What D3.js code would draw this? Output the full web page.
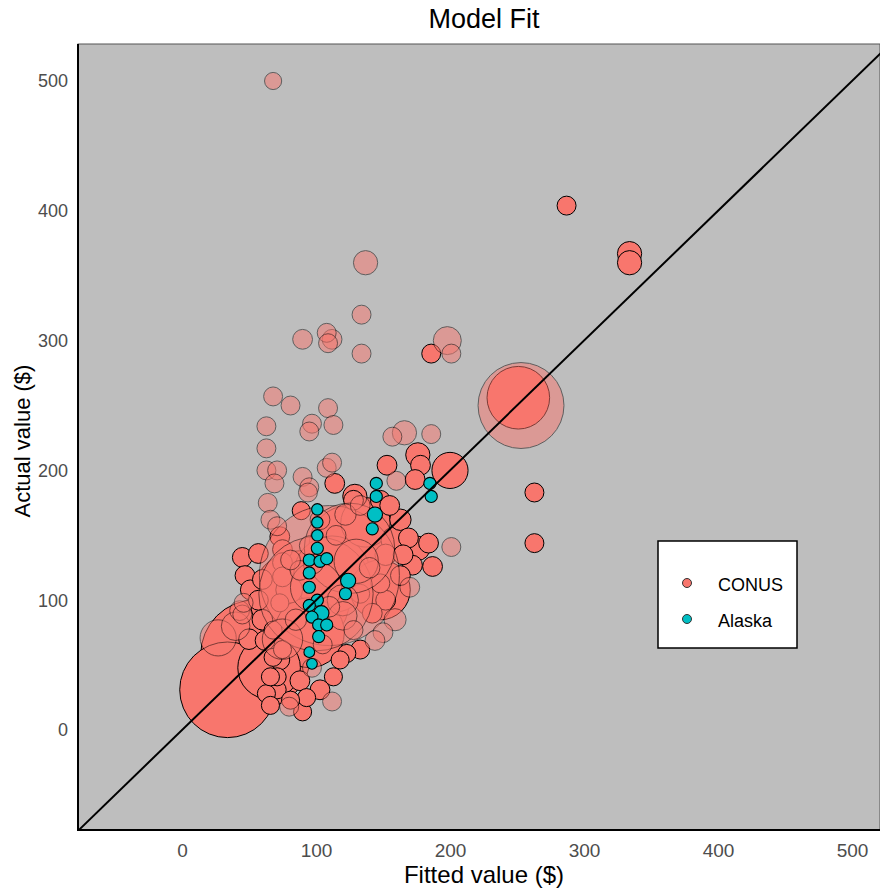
<!DOCTYPE html>
<html>
<head>
<meta charset="utf-8">
<script src="https://cdn.jsdelivr.net/npm/d3@7"></script>
<style>
  body { margin: 0; background: #fff; }
  text { font-family: "Liberation Sans", Arial, sans-serif; }
</style>
</head>
<body>
<div id="chart"></div>
<script>
// [fitted, actual, weight]
const conusSolid = [
  [88, 100, 30], [55, 58, 37], [34, 31, 28], [125, 142, 20], [95, 75, 15],
  [251, 256, 12], [148, 108, 11], [65, 48, 12], [137, 160, 7.5], [112, 120, 18],
  [200, 200, 4], [159, 146, 2.4], [80, 108, 2.2],
  [287, 404, 1.1], [334, 367, 1.8], [334, 360, 1.8], [263, 183, 1.1], [263, 144, 1.1],
  [186, 290, 1.1], [176, 212, 1.8], [178, 204, 1.2], [174, 193, 1.2], [153, 204, 1.2],
  [114, 190, 1.2], [89, 169, 1.0], [129, 180, 1.8], [176, 140, 1.8], [184, 144, 1.2],
  [187, 126, 1.2], [172, 127, 1.2], [45, 133, 1.2], [57, 136, 1.2], [73, 149, 1.2],
  [75, 139, 1.2], [75, 129, 1.2], [75, 118, 1.2], [128, 177, 1.2],
  [148, 177, 1.2], [155, 173, 1.2], [163, 162, 1.4],
  [169, 148, 1.2], [152, 135, 1.4], [163, 119, 1.2], [152, 100, 1.2], [133, 62, 1.1],
  [123, 59, 1.0], [118, 54, 1.0], [113, 41, 1.0], [90, 14, 1.0], [93, 25, 1.0],
  [71, 31, 1.0], [63, 28, 1.0], [71, 41, 1.0], [66, 41, 1.0], [73, 98, 1.0],
  [68, 77, 1.0], [68, 56, 1.0], [75, 62, 1.0], [148, 113, 1.1], [133, 105, 1.1],
  [47, 119, 1.2], [51, 108, 1.2], [57, 100, 1.2], [60, 116, 1.2],
  [62, 69, 1.2], [73, 54, 1.2], [88, 38, 1.2], [103, 31, 1.2], [81, 23, 1.0],
  [66, 19, 1.0], [165, 135, 1.2], [142, 90, 1.2], [60, 85, 1.3], [50, 70, 1.3]
];

const conusFaded = [
  [110, 119, 60], [100, 105, 40], [125, 140, 25], [100, 110, 8], [130, 130, 6],
  [75, 70, 5], [120, 100, 3], [253, 250, 22.6], [27, 71, 4], [40, 80, 2.5],
  [68, 500, 0.9], [137, 360, 1.8], [134, 320, 1.1], [90, 301, 1.2], [108, 306, 1.1],
  [112, 301, 1.2], [109, 298, 1.1], [134, 290, 1.1], [198, 300, 2.4], [201, 290, 1.1],
  [68, 257, 1.1], [81, 250, 1.1], [63, 234, 1.1], [109, 248, 1.1],
  [97, 236, 1.1], [95, 230, 1.1], [113, 235, 1.1], [157, 226, 1.1], [166, 229, 1.8],
  [186, 228, 1.1], [63, 217, 1.1], [63, 200, 1.1], [71, 200, 1.1], [69, 190, 1.1],
  [90, 195, 1.1], [95, 187, 1.1], [94, 183, 1.1], [108, 202, 1.1], [112, 206, 1.1],
  [64, 175, 1.1], [66, 162, 1.1], [71, 157, 1.1], [160, 192, 1.1], [201, 141, 1.1],
  [112, 22, 1.1], [80, 18, 1.1], [45, 89, 1.1], [46, 98, 1.1],
  [159, 85, 1.5], [150, 75, 1.2], [170, 110, 1.2], [144, 69, 1.2], [43, 92, 1.2],
  [103, 162, 1.2], [122, 166, 1.4], [133, 173, 1.2], [115, 150, 1.2], [98, 128, 1.2],
  [110, 95, 1.3], [85, 85, 1.4], [120, 88, 2.5], [140, 125, 1.3], [88, 123, 1.2],
  [95, 142, 1.2], [81, 131, 1.2], [128, 77, 1.1], [105, 66, 1.1], [97, 48, 1.1]
];

const alaska = [
  [101, 170, 0.4], [101, 160, 0.4], [101, 150, 0.4], [101, 140, 0.45], [95, 131, 0.45],
  [103, 130, 0.45], [108, 132, 0.45], [95, 121, 0.45], [95, 110, 0.45], [124, 115, 0.7],
  [122, 105, 0.45], [101, 100, 0.45], [95, 96, 0.45], [104, 90, 0.7], [97, 87, 0.45],
  [102, 81, 0.45], [108, 81, 0.45], [102, 72, 0.45], [95, 60, 0.35], [97, 51, 0.35],
  [145, 190, 0.45], [145, 180, 0.45], [144, 166, 0.7], [142, 155, 0.45],
  [185, 190, 0.45], [186, 180, 0.45]
];

const xTicks = [0, 100, 200, 300, 400, 500];
const yTicks = [0, 100, 200, 300, 400, 500];
const legendLabels = ["CONUS", "Alaska"];
const colors = { CONUS: "#F8766D", Alaska: "#00BFC4" };

const W = 880, H = 890;
const margin = { top: 44, right: 0, bottom: 60, left: 78 };
const width = W - margin.left - margin.right;
const height = H - margin.top - margin.bottom;

const svg = d3.select("#chart").append("svg")
  .attr("width", W).attr("height", H);

const x = d3.scaleLinear().domain([-77.6, 520.9]).range([margin.left, margin.left + width]);
const y = d3.scaleLinear().domain([-77, 528.5]).range([margin.top + height, margin.top]);
const r = d3.scaleSqrt().domain([0, 60]).range([0, 70]);

svg.append("defs").append("clipPath").attr("id", "clip")
  .append("rect")
  .attr("x", margin.left).attr("y", margin.top)
  .attr("width", width).attr("height", height);

// panel
svg.append("rect")
  .attr("x", margin.left).attr("y", margin.top)
  .attr("width", width).attr("height", height)
  .attr("fill", "#bebebe")
  .attr("stroke", "#555").attr("stroke-width", 1);

const plot = svg.append("g").attr("clip-path", "url(#clip)");

const bySize = (a, b) => b[2] - a[2];

plot.selectAll(".solid").data(conusSolid.slice().sort(bySize)).join("circle")
  .attr("class", "solid")
  .attr("cx", d => x(d[0])).attr("cy", d => y(d[1]))
  .attr("r", d => r(d[2]))
  .attr("fill", colors.CONUS)
  .attr("stroke", "#000").attr("stroke-width", 1);

plot.selectAll(".faded").data(conusFaded.slice().sort(bySize)).join("circle")
  .attr("class", "faded")
  .attr("cx", d => x(d[0])).attr("cy", d => y(d[1]))
  .attr("r", d => r(d[2]))
  .attr("fill", colors.CONUS)
  .attr("stroke", "#000").attr("stroke-width", 1)
  .attr("opacity", 0.5);

plot.selectAll(".ak").data(alaska).join("circle")
  .attr("class", "ak")
  .attr("cx", d => x(d[0])).attr("cy", d => y(d[1]))
  .attr("r", d => r(d[2]))
  .attr("fill", colors.Alaska)
  .attr("stroke", "#000").attr("stroke-width", 1.1);

// y = x reference line
plot.append("line")
  .attr("x1", x(-100)).attr("y1", y(-100))
  .attr("x2", x(600)).attr("y2", y(600))
  .attr("stroke", "#000").attr("stroke-width", 2);

// axes
const xAxis = svg.append("g")
  .attr("transform", `translate(0,${margin.top + height})`)
  .call(d3.axisBottom(x).tickValues(xTicks).tickSize(0).tickPadding(14));
xAxis.select(".domain").remove();
xAxis.selectAll("text").attr("fill", "#4d4d4d").style("font-size", "19px")
  .style("font-family", "'Liberation Sans Narrow', 'Liberation Sans', Arial, sans-serif");

const yAxis = svg.append("g")
  .attr("transform", `translate(${margin.left},0)`)
  .call(d3.axisLeft(y).tickValues(yTicks).tickSize(0).tickPadding(10));
yAxis.select(".domain").remove();
yAxis.selectAll("text").attr("fill", "#4d4d4d").style("font-size", "18px")
  .style("font-family", "'Liberation Sans', Arial, sans-serif");

svg.append("line")
  .attr("x1", margin.left).attr("x2", margin.left + width)
  .attr("y1", margin.top + height).attr("y2", margin.top + height)
  .attr("stroke", "#000").attr("stroke-width", 2);
svg.append("line")
  .attr("x1", margin.left).attr("x2", margin.left)
  .attr("y1", margin.top).attr("y2", margin.top + height + 1)
  .attr("stroke", "#000").attr("stroke-width", 2);

// titles
svg.append("text")
  .attr("x", 484).attr("y", 28)
  .attr("text-anchor", "middle")
  .style("font-size", "27px")
  .text("Model Fit");

svg.append("text")
  .attr("x", 484).attr("y", 883)
  .attr("text-anchor", "middle")
  .style("font-size", "24px")
  .style("font-family", "'Liberation Sans Narrow', 'Liberation Sans', Arial, sans-serif")
  .text("Fitted value ($)");

svg.append("text")
  .attr("transform", "translate(30,441) rotate(-90)")
  .attr("text-anchor", "middle")
  .style("font-size", "22px")
  .text("Actual value ($)");

// legend
const legend = svg.append("g");
legend.append("rect")
  .attr("x", 658).attr("y", 541)
  .attr("width", 139).attr("height", 107)
  .attr("fill", "#fff").attr("stroke", "#000").attr("stroke-width", 1.5);

const items = legend.selectAll(".item").data(legendLabels).join("g")
  .attr("class", "item")
  .attr("transform", (d, i) => `translate(0,${583 + i * 36})`);
items.append("circle")
  .attr("cx", 687).attr("cy", 0).attr("r", 4.5)
  .attr("fill", d => colors[d])
  .attr("stroke", "#333").attr("stroke-width", 1);
items.append("text")
  .attr("x", 718).attr("y", 8)
  .style("font-size", "18px")
  .text(d => d);
</script>
</body>
</html>
